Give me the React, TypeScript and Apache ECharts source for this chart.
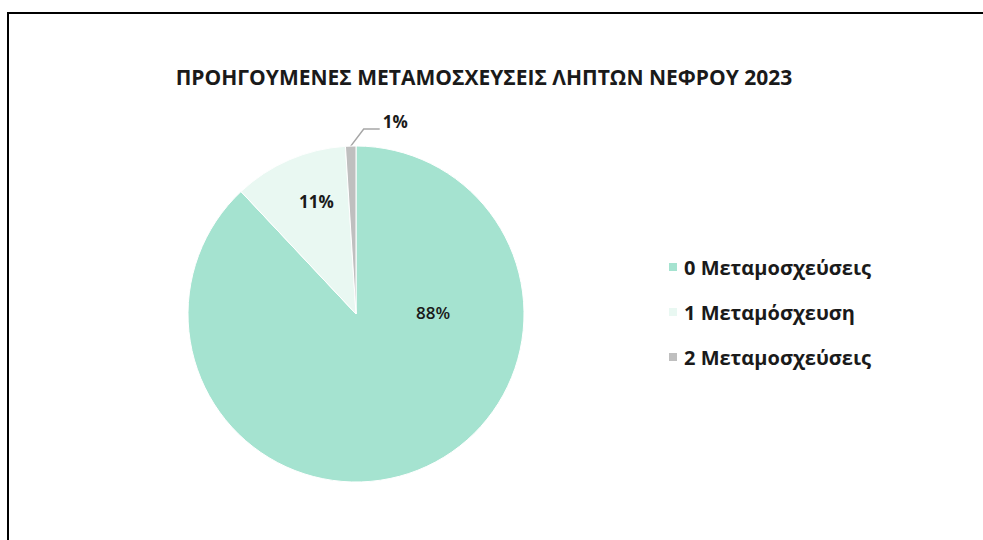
import React, { useEffect, useRef } from "react";
import * as echarts from "echarts";

const title = "ΠΡΟΗΓΟΥΜΕΝΕΣ ΜΕΤΑΜΟΣΧΕΥΣΕΙΣ ΛΗΠΤΩΝ ΝΕΦΡΟΥ 2023";
const categories = ["0 Μεταμοσχεύσεις", "1 Μεταμόσχευση", "2 Μεταμοσχεύσεις"];
const values = [88, 11, 1];
const colors = ["#a5e3d0", "#e9f8f2", "#bfbfbf"];
const labelOffsets = [[45, -82], [-5, -33], [0, 0]];

export default function App() {
  const ref = useRef<HTMLDivElement>(null);
  useEffect(() => {
    if (!ref.current) return;
    const chart = echarts.init(ref.current, null, { renderer: "svg" });
    const font = "'Open Sans', Lato, sans-serif";
    chart.setOption({
      animation: false,
      backgroundColor: "#ffffff",
      textStyle: { fontFamily: font },
      title: {
        text: title,
        left: 479,
        textAlign: "center",
        top: 61,
        textStyle: { fontSize: 21, fontWeight: "bold", color: "#1a1a1a", fontFamily: font },
      },
      graphic: [
        {
          type: "rect",
          shape: { x: 8, y: 13, width: 1000, height: 600 },
          style: { fill: "none", stroke: "#000", lineWidth: 2 },
          silent: true,
        },
      ],
      legend: {
        orient: "vertical",
        left: 662,
        top: 252,
        itemWidth: 10,
        itemHeight: 10,
        itemGap: 25,
        icon: "rect",
        data: categories,
        textStyle: { fontSize: 20, fontWeight: "bold", color: "#1a1a1a", fontFamily: font, padding: [0, 0, 0, 1] },
      },
      series: [
        {
          type: "pie",
          center: [356, 314],
          radius: [0, 168],
          startAngle: 90,
          clockwise: true,
          avoidLabelOverlap: false,
          itemStyle: { borderColor: "#ffffff", borderWidth: 1 },
          data: categories.map((name, i) => ({
            name,
            value: values[i],
            itemStyle: { color: colors[i] },
            label:
              i < 2
                ? {
                    show: true,
                    position: "inside",
                    offset: labelOffsets[i],
                    formatter: "{d}%",
                    fontSize: 17,
                    fontWeight: i === 0 ? 600 : "bold",
                    color: "#1a1a1a",
                    fontFamily: font,
                  }
                : {
                    show: true,
                    position: "outside",
                    formatter: "{d}%",
                    fontSize: 17,
                    fontWeight: "bold",
                    color: "#1a1a1a",
                    fontFamily: font,
                  },
            labelLine:
              i < 2
                ? { show: false }
                : { show: true, length: 15, length2: 15, lineStyle: { color: "#a6a6a6", width: 1.5 } },
          })),
          label: { formatter: "{d}%" },
          labelLayout: (params: any) => {
            if (params.dataIndex !== 2 || !params.labelLinePoints) return {};
            const p0 = params.labelLinePoints[0];
            return {
              x: p0[0] + 32,
              y: p0[1] - 25,
              align: "left",
              verticalAlign: "middle",
              labelLinePoints: [
                [p0[0], p0[1]],
                [p0[0] + 13, p0[1] - 17],
                [p0[0] + 29, p0[1] - 17],
              ],
            };
          },
        },
      ],
    });
    return () => chart.dispose();
  }, []);
  return (
    <div
      ref={ref}
      style={{ position: "fixed", left: 0, top: 0, width: 983, height: 540 }}
    />
  );
}
